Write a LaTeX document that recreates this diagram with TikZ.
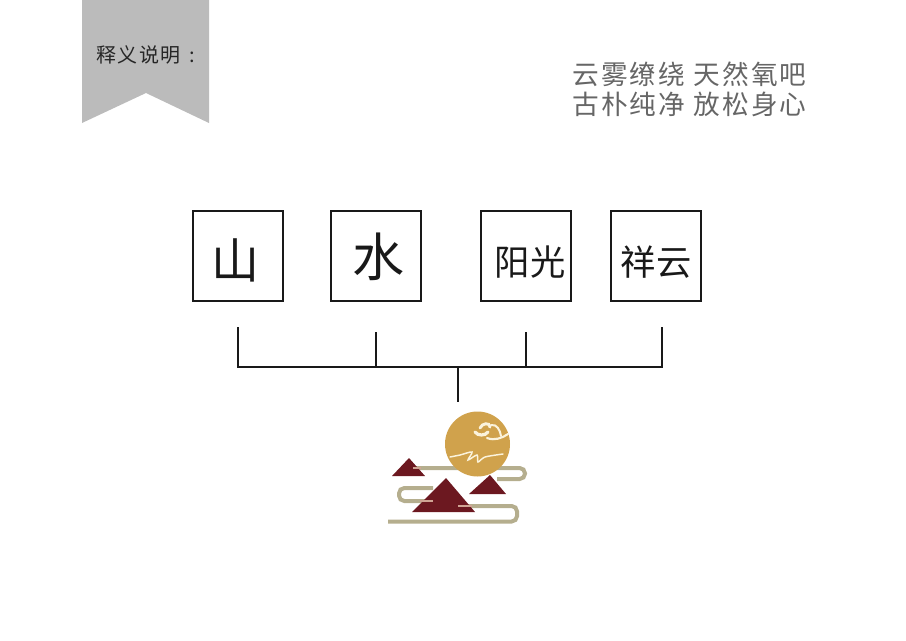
\documentclass[tikz,border=0pt]{standalone}
\usepackage{fontspec}
\setmainfont{Noto Sans CJK SC}
\newfontfamily\slogfont[LetterSpace=8]{Noto Sans CJK SC}
\newfontfamily\bannerfont[LetterSpace=7]{Noto Sans CJK SC}
\usetikzlibrary{positioning, calc}
\definecolor{bannergray}{HTML}{BBBBBB}
\definecolor{moongold}{HTML}{D0A24C}
\definecolor{hillred}{HTML}{6C1820}
\definecolor{bandtan}{HTML}{B5AE8E}
\definecolor{barpink}{HTML}{D0A494}
\definecolor{cloudcream}{HTML}{FBF3DC}
\newcommand{\wordat}[3]{\raisebox{#2}[0pt][0pt]{\makebox[0pt]{\hspace*{#1}#3}}}

\begin{document}
\begin{tikzpicture}[x=0.75pt, y=-0.75pt,
    wordbox/.style={rectangle,
      draw=black!90,
      line width=1.7pt,
      outer sep=0pt,
      minimum size=67.5pt,
      inner sep=0pt,
      anchor=center,
      align=center,
      text=black!90},
    bigword/.style={wordbox, font=\fontsize{36}{36}\selectfont},
    smallword/.style={wordbox, font=\fontsize{26.5}{27}\selectfont},
    joint/.style={draw=black!90, line width=1.5pt},
    band/.style={draw=bandtan, line width=3pt, rounded corners=4pt},
    hill/.style={fill=hillred, draw=none},
    tick/.style={draw=barpink, line width=2pt},
    curl/.style={draw=cloudcream, line width=1.1pt, line cap=round}]

  \useasboundingbox (0,0) rectangle (906,640);

  % BANNER

  \fill[bannergray] (82,0) -- (209,0) -- (209,123) -- (146,93) -- (82,123) -- cycle;
  \node [text=black!85, inner sep=0pt, font=\bannerfont\fontsize{15}{16}\selectfont, anchor=west] (bannertext)
    at (96,55) {释义说明\hspace{6.5pt}:};

  \node [text=black!60, inner sep=0pt, font=\slogfont\fontsize{20}{22.5}\selectfont, align=left, anchor=north west] (slogan)
    at (572,62) {云雾缭绕 天然氧吧\\古朴纯净 放松身心};

  % WORD BOXES

  \node [bigword] (shan) at (238,256) {\wordat{-4pt}{-17pt}{山}};
  \node [bigword, font=\fontsize{39}{39}\selectfont, right=36pt of shan] (shui) {\wordat{3pt}{-15.5pt}{水}};
  \node [smallword, right=45pt of shui] (yangguang) {\wordat{6pt}{-14.5pt}{阳光}};
  \node [smallword, right=30pt of yangguang] (xiangyun) {\wordat{0pt}{-14.5pt}{祥云}};

  % BRACKET

  \coordinate (shanfoot) at ($(shan.south) + (0,26)$);
  \coordinate (shuifoot) at ($(shui.south) + (0,31)$);
  \coordinate (yangfoot) at ($(yangguang.south) + (0,31)$);
  \coordinate (xiangfoot) at ($(xiangyun.south) + (6,26)$);
  \coordinate (stemtop) at (458,367);
  \coordinate (stemfoot) at (458,402);

  \draw[joint] (shanfoot) |- (stemtop) -| (xiangfoot);
  \draw[joint] (shuifoot) -- (shuifoot |- stemtop);
  \draw[joint] (yangfoot) -- (yangfoot |- stemtop);
  \draw[joint] (stemtop) -- (stemfoot);

  % LOGO

  \draw[band] (413,468) -- (525,468) -- (525,479) -- (497,479);
  \draw[band] (433,488) -- (399,488) -- (399,501) -- (433,501);
  \draw[band] (458,506) -- (517,506) -- (517,521.5) -- (388,521.5);

  \fill[moongold] (477.5,444) circle[radius=32.5];

  \fill[hill] (409,458) -- (425,476) -- (392,476) -- cycle;
  \fill[hill] (446,478) -- (475,512) -- (412,512) -- cycle;
  \fill[hill] (490,475) -- (506,494) -- (469,494) -- cycle;

  \draw[tick] (413,468) -- (421,468);
  \draw[tick] (420,501) -- (433,501);
  \draw[tick] (458,506) -- (472,506);

  % CLOUD AND WAVE ON THE MOON

  \draw[curl] plot[smooth] coordinates {(450,457) (460,455) (472,452) (468,460) (477,455) (478,462) (485,457) (503,454)};
  \draw[curl, line width=2.4pt] (475,432) .. controls (478,436) and (485,436) .. (488,432);
  \draw[curl, line width=2.2pt] (480,428) .. controls (482,423) and (490,422) .. (490,427);
  \draw[curl, line width=1.5pt] (491,425) .. controls (497,424) and (500,430) .. (501,436);
  \draw[curl, line width=1.6pt] (487,438) .. controls (495,441) and (502,438) .. (508,434);
\end{tikzpicture}
\end{document}
